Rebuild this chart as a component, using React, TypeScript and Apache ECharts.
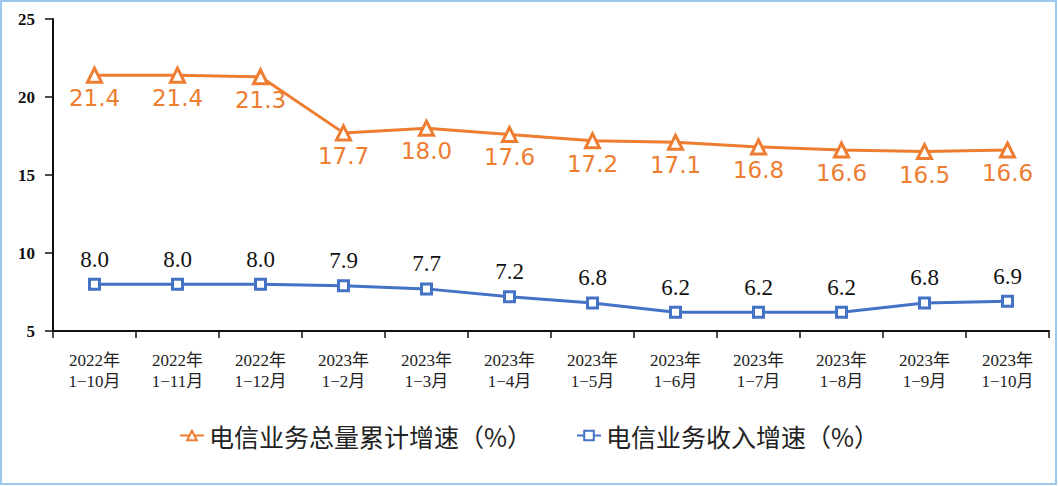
import React, { useEffect, useRef } from "react";
import * as echarts from "echarts";

const categories = [
  "2022年\n1−10月", "2022年\n1−11月", "2022年\n1−12月", "2023年\n1−2月",
  "2023年\n1−3月", "2023年\n1−4月", "2023年\n1−5月", "2023年\n1−6月",
  "2023年\n1−7月", "2023年\n1−8月", "2023年\n1−9月", "2023年\n1−10月",
];
const totalVolume = [21.4, 21.4, 21.3, 17.7, 18.0, 17.6, 17.2, 17.1, 16.8, 16.6, 16.5, 16.6];
const revenue = [8.0, 8.0, 8.0, 7.9, 7.7, 7.2, 6.8, 6.2, 6.2, 6.2, 6.8, 6.9];
const seriesNames = ["电信业务总量累计增速（%）", "电信业务收入增速（%）"];

export default function App() {
  const ref = useRef<HTMLDivElement>(null);
  useEffect(() => {
    document.body.style.margin = "0";
    const chart = echarts.init(ref.current!, null, { renderer: "svg" });
    chart.setOption({
      animation: false,
      backgroundColor: "#fff",
      graphic: [
        {
          type: "rect",
          shape: { x: 1, y: 1, width: 1055, height: 483 },
          style: { fill: "none", stroke: "#9DC8EE", lineWidth: 2 },
          silent: true,
        },
      ],
      grid: { left: 53, right: 9, top: 19, bottom: 155 },
      legend: {
        bottom: 33,
        left: "center",
        itemGap: 44,
        itemWidth: 24,
        itemHeight: 12,
        textStyle: { fontFamily: "Noto Sans CJK SC", fontSize: 25, color: "#222" },
        data: seriesNames,
      },
      xAxis: {
        type: "category",
        data: categories,
        boundaryGap: true,
        axisLine: { lineStyle: { color: "#111", width: 2 } },
        axisTick: { show: true, length: 7, lineStyle: { color: "#111", width: 1.5 } },
        axisLabel: {
          interval: 0,
          margin: 19,
          fontSize: 17,
          lineHeight: 21,
          color: "#222",
          fontFamily: "'Liberation Serif', 'Noto Sans CJK SC'",
        },
      },
      yAxis: {
        type: "value",
        min: 5,
        max: 25,
        interval: 5,
        splitLine: { show: false },
        axisLine: { show: true, lineStyle: { color: "#111", width: 2 } },
        axisTick: { show: true, length: 8, lineStyle: { color: "#111", width: 1.5 } },
        axisLabel: {
          margin: 18,
          fontSize: 17,
          fontWeight: "bold",
          color: "#111",
          fontFamily: "'Liberation Serif'",
        },
      },
      series: [
        {
          name: seriesNames[0],
          type: "line",
          data: totalVolume,
          symbol: "triangle",
          symbolSize: 14,
          showAllSymbol: true,
          lineStyle: { color: "#ED7D31", width: 3 },
          itemStyle: { color: "#fff", borderColor: "#ED7D31", borderWidth: 3 },
          label: {
            show: true,
            position: "bottom",
            distance: 3,
            formatter: (p: any) => p.value.toFixed(1),
            color: "#ED7D31",
            fontSize: 23,
            fontFamily: "'DejaVu Sans'",
          },
        },
        {
          name: seriesNames[1],
          type: "line",
          data: revenue,
          symbol: "rect",
          symbolSize: 10,
          showAllSymbol: true,
          lineStyle: { color: "#4472C4", width: 3 },
          itemStyle: { color: "#fff", borderColor: "#4472C4", borderWidth: 3 },
          label: {
            show: true,
            position: "top",
            distance: 7,
            formatter: (p: any) => p.value.toFixed(1),
            color: "#111",
            fontSize: 23,
            fontFamily: "'Liberation Serif'",
          },
        },
      ],
    });
    return () => chart.dispose();
  }, []);
  return <div ref={ref} style={{ width: 1058, height: 486 }} />;
}
